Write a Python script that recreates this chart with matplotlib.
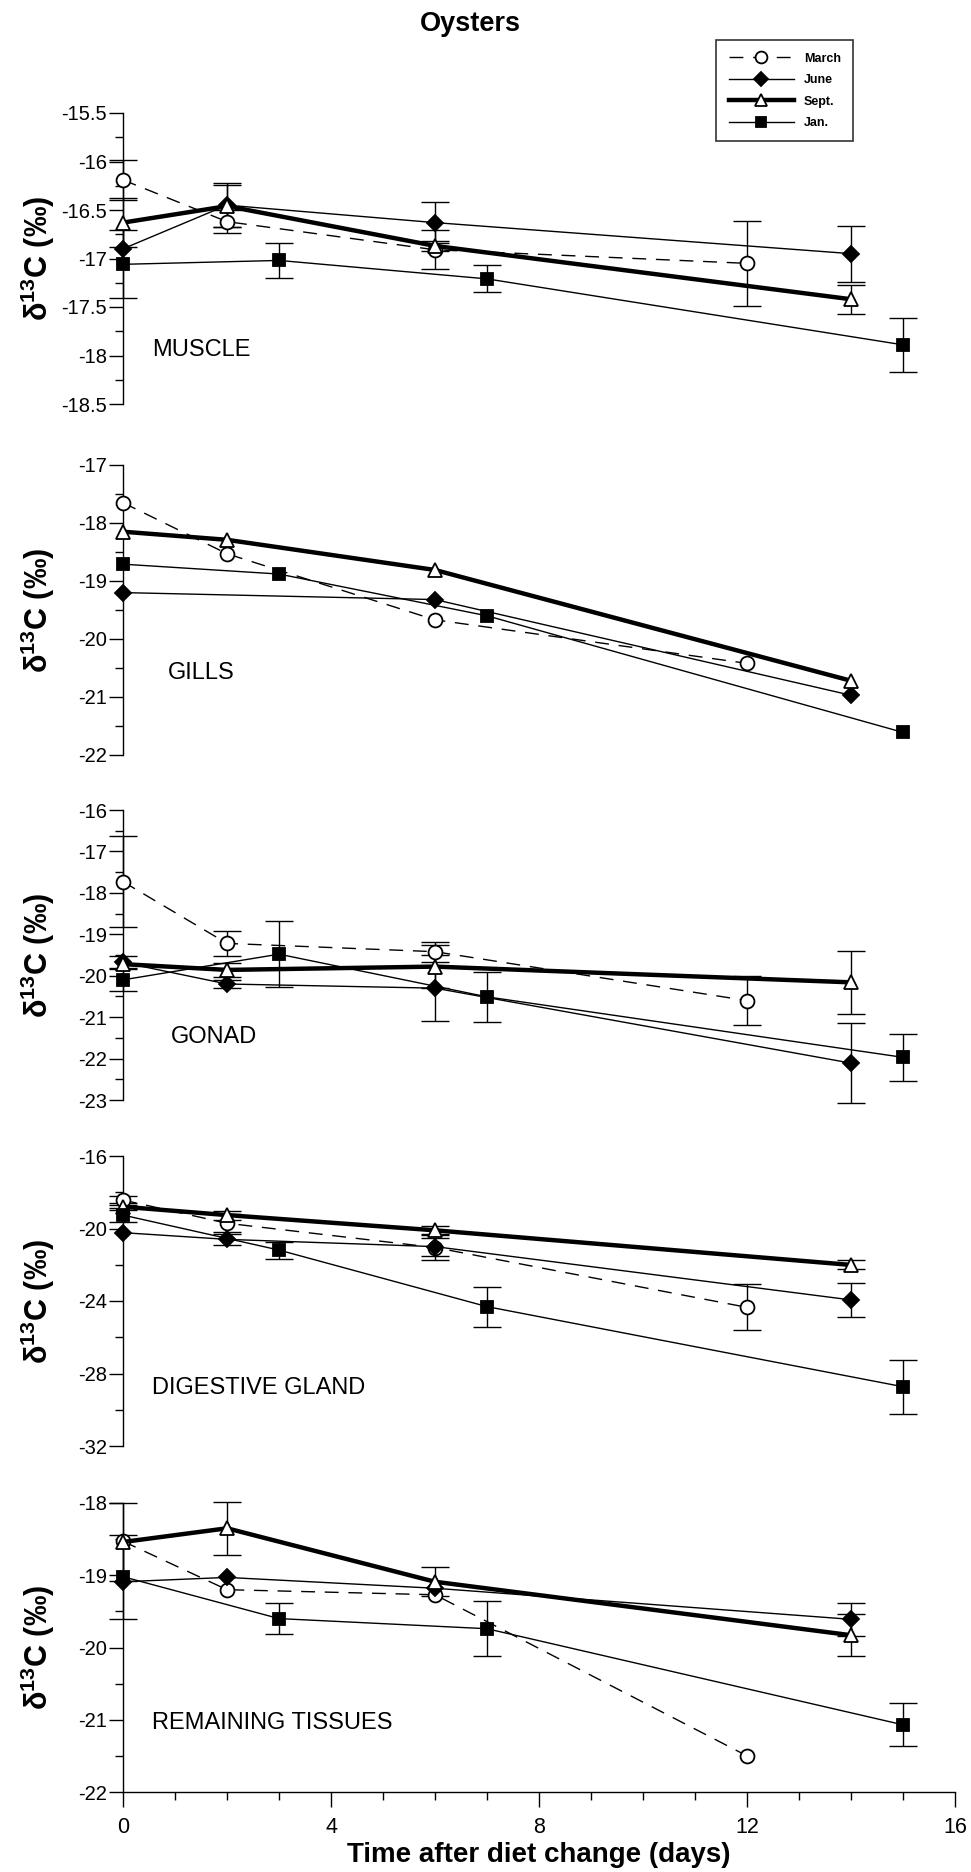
import numpy as np
import matplotlib
matplotlib.use("Agg")
import matplotlib.pyplot as plt
from matplotlib.ticker import MultipleLocator, FormatStrFormatter

plt.rcParams['font.family'] = ['Liberation Sans', 'DejaVu Sans']
plt.rcParams['mathtext.default'] = 'regular'
plt.rcParams['axes.unicode_minus'] = False

# days after the diet change for each season
march_days = [0, 2, 6, 12]
june_days = [0, 2, 6, 14]
june_days_gills = [0, 6, 14]
sept_days = [0, 2, 6, 14]
jan_days = [0, 3, 7, 15]

# MUSCLE
muscle_march = [-16.19, -16.62, -16.91, -17.05]
muscle_march_err = [0.21, 0.12, 0.20, 0.44]
muscle_june = [-16.90, -16.45, -16.63, -16.95]
muscle_june_err = [0, 0.23, 0.21, 0.29]
muscle_sept = [-16.63, -16.46, -16.87, -17.42]
muscle_sept_err = [0.25, 0.22, 0.05, 0.15]
muscle_jan = [-17.06, -17.02, -17.21, -17.89]
muscle_jan_err = [0.35, 0.18, 0.14, 0.28]

# GILLS
gills_march = [-17.65, -18.53, -19.67, -20.42]
gills_june = [-19.20, -19.32, -20.97]
gills_sept = [-18.15, -18.29, -18.81, -20.72]
gills_jan = [-18.71, -18.88, -19.60, -21.61]

# GONAD
gonad_march = [-17.73, -19.22, -19.42, -20.60]
gonad_march_err = [1.10, 0.31, 0.24, 0.60]
gonad_june = [-19.68, -20.20, -20.30, -22.11]
gonad_june_err = [0.16, 0.10, 0.80, 0.96]
gonad_sept = [-19.72, -19.86, -19.78, -20.16]
gonad_sept_err = [0, 0.17, 0.52, 0.76]
gonad_jan = [-20.10, -19.48, -20.51, -21.97]
gonad_jan_err = [0.28, 0.80, 0.60, 0.57]

# DIGESTIVE GLAND
dg_march = [-18.43, -19.71, -21.05, -24.35]
dg_march_err = [0.25, 0.50, 0.68, 1.27]
dg_june = [-20.23, -20.60, -21.00, -23.94]
dg_june_err = [0, 0.31, 0.50, 0.96]
dg_sept = [-18.80, -19.26, -20.10, -22.01]
dg_sept_err = [0.20, 0.25, 0.22, 0.25]
dg_jan = [-19.26, -21.19, -24.31, -28.73]
dg_jan_err = [0.40, 0.47, 1.10, 1.50]

# REMAINING TISSUES
rt_march = [-18.53, -19.20, -19.27, -21.50]
rt_march_err = [0, 0, 0, 0]
rt_june = [-19.09, -19.03, -19.18, -19.61]
rt_june_err = [0, 0, 0, 0.23]
rt_sept = [-18.54, -18.35, -19.09, -19.83]
rt_sept_err = [0.54, 0.37, 0.20, 0.29]
rt_jan = [-19.02, -19.60, -19.74, -21.07]
rt_jan_err = [0.58, 0.21, 0.38, 0.30]

panels = [
    ("MUSCLE", (-18.5, -15.5), 0.5, 0.25, 0.035, 0.186,
     [(march_days, muscle_march, muscle_march_err), (june_days, muscle_june, muscle_june_err),
      (sept_days, muscle_sept, muscle_sept_err), (jan_days, muscle_jan, muscle_jan_err)]),
    ("GILLS", (-22, -17), 1, 0.5, 0.054, 0.284,
     [(march_days, gills_march, None), (june_days_gills, gills_june, None),
      (sept_days, gills_sept, None), (jan_days, gills_jan, None)]),
    ("GONAD", (-23, -16), 1, 0.5, 0.058, 0.218,
     [(march_days, gonad_march, gonad_march_err), (june_days, gonad_june, gonad_june_err),
      (sept_days, gonad_sept, gonad_sept_err), (jan_days, gonad_jan, gonad_jan_err)]),
    ("DIGESTIVE GLAND", (-32, -16), 4, 2, 0.035, 0.199,
     [(march_days, dg_march, dg_march_err), (june_days, dg_june, dg_june_err),
      (sept_days, dg_sept, dg_sept_err), (jan_days, dg_jan, dg_jan_err)]),
    ("REMAINING TISSUES", (-22, -18), 1, 0.5, 0.035, 0.24,
     [(march_days, rt_march, rt_march_err), (june_days, rt_june, rt_june_err),
      (sept_days, rt_sept, rt_sept_err), (jan_days, rt_jan, rt_jan_err)]),
]

# one style per season
styles = [
    dict(label='March', ls=(0, (10, 7)), lw=1.0, marker='o', mfc='white', ms=10),
    dict(label='June', ls='-', lw=1.0, marker='D', mfc='black', ms=8.5),
    dict(label='Sept.', ls='-', lw=3.2, marker='^', mfc='white', ms=10),
    dict(label='Jan.', ls='-', lw=1.0, marker='s', mfc='black', ms=9),
]

fig = plt.figure(figsize=(9.71, 18.72), dpi=100)
tops = [113, 465, 810, 1156, 1503]
bottoms = [404, 755, 1100, 1446, 1792]
left = 123 / 971
width = (955 - 123) / 971

handles = []
for i, (name, ylim, major, minor, label_x, label_y, series) in enumerate(panels):
    ax = fig.add_axes([left, 1 - bottoms[i] / 1872, width, (bottoms[i] - tops[i]) / 1872])
    for (days, vals, errs), st in zip(series, styles):
        x = np.array(days, dtype=float)
        y = np.array(vals, dtype=float)
        ln, = ax.plot(x, y, color='black', linestyle=st['ls'], lw=st['lw'],
                      marker=st['marker'], ms=st['ms'], mfc=st['mfc'], mec='black',
                      mew=1.3, clip_on=False, zorder=3, label=st['label'])
        if errs is not None:
            e = np.array(errs, dtype=float)
            m = e > 0
            if m.any():
                ax.errorbar(x[m], y[m], yerr=e[m], fmt='none', ecolor='black',
                            elinewidth=1.0, capsize=10, capthick=1.0, clip_on=False, zorder=2)
        if i == 0:
            handles.append(ln)

    ax.set_xlim(0, 16)
    ax.set_ylim(*ylim)
    ax.yaxis.set_major_locator(MultipleLocator(major))
    ax.yaxis.set_minor_locator(MultipleLocator(minor))
    ax.yaxis.set_major_formatter(FormatStrFormatter('%g'))
    ax.tick_params(axis='y', which='major', direction='out', length=10, width=1,
                   labelsize=14.5, pad=1.5)
    ax.tick_params(axis='y', which='minor', direction='out', length=5.5, width=1)
    for s in ['top', 'right']:
        ax.spines[s].set_visible(False)
    ax.spines['left'].set_linewidth(1.0)
    ax.set_ylabel(r'δ$^{13}$C (‰)', fontsize=22, fontweight='bold')
    ax.yaxis.set_label_coords(-0.079, 0.5)
    ax.text(label_x, label_y, name, transform=ax.transAxes, fontsize=17,
            va='center', ha='left')

    if i < 4:
        ax.spines['bottom'].set_visible(False)
        ax.tick_params(axis='x', which='both', bottom=False, labelbottom=False)
    else:
        ax.spines['bottom'].set_linewidth(1.0)
        ax.xaxis.set_major_locator(MultipleLocator(4))
        ax.xaxis.set_minor_locator(MultipleLocator(1))
        ax.tick_params(axis='x', which='major', direction='out', length=11, width=1,
                       labelsize=15.5, pad=7)
        ax.tick_params(axis='x', which='minor', direction='out', length=6, width=1)
        ax.set_xlabel('Time after diet change (days)', fontsize=20, fontweight='bold',
                      labelpad=3)

fig.text(0.484, 1 - 24 / 1872, 'Oysters', ha='center', va='center', fontsize=19.5,
         fontweight='bold')

leg = fig.legend(handles=handles, loc='upper left',
                 bbox_to_anchor=(710 / 971, 1 - 34 / 1872), frameon=True,
                 fancybox=False, edgecolor='black', prop={'size': 9, 'weight': 'bold'},
                 handlelength=5.2, labelspacing=0.75, handletextpad=0.8,
                 borderpad=1.0, markerscale=0.85)
leg.get_frame().set_linewidth(1.2)

fig.savefig('out.png', dpi=100)
